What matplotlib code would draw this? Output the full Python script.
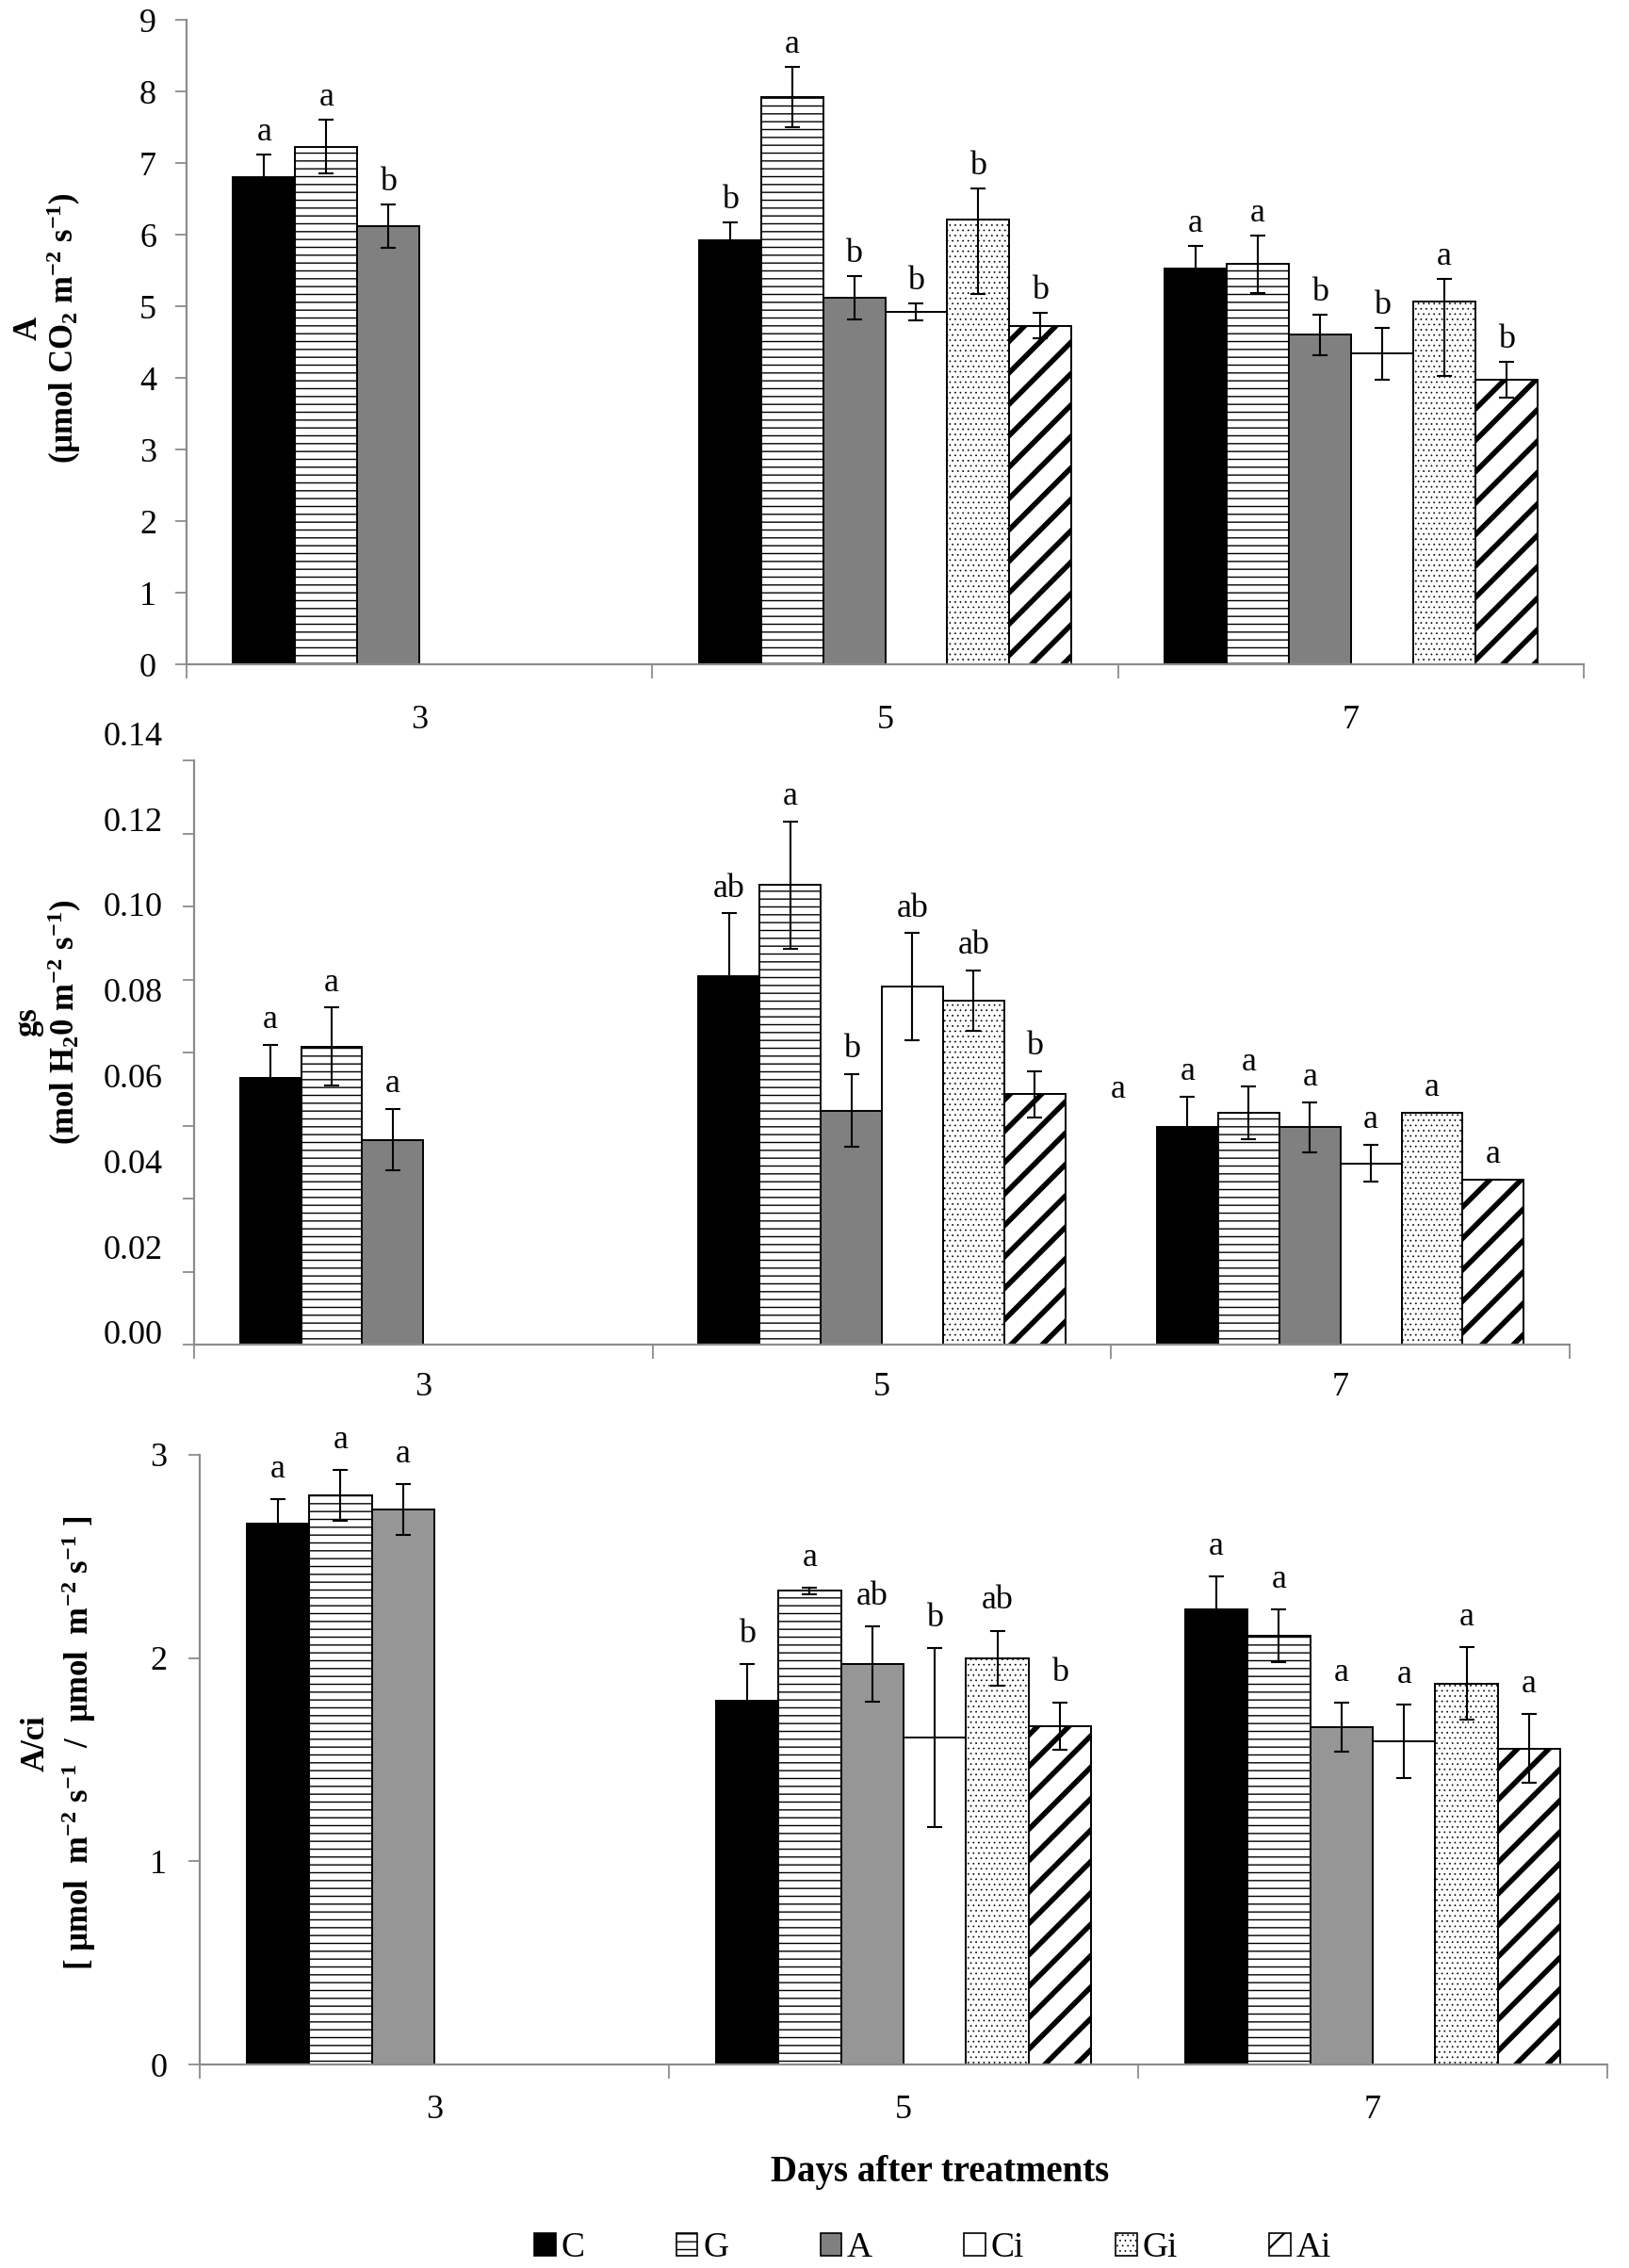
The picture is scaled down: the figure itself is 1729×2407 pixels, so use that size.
import numpy as np
import matplotlib
matplotlib.use("Agg")
import matplotlib.pyplot as plt
from matplotlib.patches import Patch
from matplotlib.transforms import blended_transform_factory

plt.rcParams['font.family'] = ['Liberation Serif', 'DejaVu Serif']
plt.rcParams['mathtext.fontset'] = 'custom'
plt.rcParams['mathtext.rm'] = 'Liberation Serif'
plt.rcParams['mathtext.it'] = 'Liberation Serif:italic'
plt.rcParams['mathtext.bf'] = 'Liberation Serif:bold'
plt.rcParams['mathtext.default'] = 'regular'

nan = np.nan
days = ["3", "5", "7"]
treatments = ["C", "G", "A", "Ci", "Gi", "Ai"]

# rows = treatment (C, G, A, Ci, Gi, Ai), cols = day (3, 5, 7)
A_mean = [[6.80, 5.92, 5.52],
          [7.23, 7.92, 5.59],
          [6.12, 5.12, 4.60],
          [nan, 4.92, 4.34],
          [nan, 6.21, 5.06],
          [nan, 4.73, 3.98]]
A_err_lo = [[0.32, 0.25, 0.32],
            [0.37, 0.42, 0.40],
            [0.30, 0.30, 0.28],
            [nan, 0.12, 0.36],
            [nan, 1.04, 1.03],
            [nan, 0.18, 0.25]]
A_err_hi = [[0.32, 0.25, 0.32],
            [0.37, 0.42, 0.40],
            [0.30, 0.30, 0.28],
            [nan, 0.12, 0.36],
            [nan, 0.43, 0.32],
            [nan, 0.18, 0.25]]
A_letters = [["a", "b", "a"],
             ["a", "a", "a"],
             ["b", "b", "b"],
             ["", "b", "b"],
             ["", "b", "a"],
             ["", "b", "b"]]

gs_mean = [[0.0623, 0.0861, 0.0508],
           [0.0697, 0.1074, 0.0542],
           [0.0479, 0.0547, 0.0508],
           [nan, 0.0837, 0.0424],
           [nan, 0.0804, 0.0542],
           [nan, 0.0585, 0.0385]]
gs_err = [[0.0077, 0.0147, 0.0071],
          [0.0091, 0.0149, 0.0061],
          [0.0072, 0.0085, 0.0058],
          [nan, 0.0125, 0.0043],
          [nan, 0.0071, 0.0],
          [nan, 0.0054, 0.0]]
gs_letters = [["a", "ab", "a"],
              ["a", "a", "a"],
              ["a", "b", "a"],
              ["", "ab", "a"],
              ["", "ab", "a"],
              ["", "b", "a"]]

aci_mean = [[2.66, 1.79, 2.24],
            [2.80, 2.33, 2.11],
            [2.73, 1.97, 1.66],
            [nan, 1.61, 1.59],
            [nan, 2.00, 1.875],
            [nan, 1.665, 1.555]]
aci_err = [[0.12, 0.18, 0.16],
           [0.125, 0.015, 0.13],
           [0.125, 0.185, 0.12],
           [nan, 0.44, 0.18],
           [nan, 0.135, 0.18],
           [nan, 0.115, 0.17]]
aci_letters = [["a", "b", "a"],
               ["a", "a", "a"],
               ["a", "ab", "a"],
               ["", "b", "a"],
               ["", "ab", "a"],
               ["", "b", "a"]]

gs_tick_labels = ["0.00", "0.02", "0.04", "0.06", "0.08", "0.10", "0.12", "0.14"]

W, H = 1729, 2407
fig = plt.figure(figsize=(W / 100, H / 100), dpi=100)

AXIS_GREY = "#8c8c8c"
TICK_FS = 26
styles = [dict(color="black", hatch=None, hlw=1.0),
          dict(color="white", hatch="--", hlw=1.0),
          dict(color="#808080", hatch=None, hlw=1.0),
          dict(color="white", hatch=None, hlw=1.0),
          dict(color="white", hatch="...", hlw=0.5),
          dict(color="white", hatch="/", hlw=4.0)]


def hatch_lw(artist, lw):
    # set the hatch width whichever way this matplotlib reads it
    if hasattr(artist, "set_hatch_linewidth"):
        artist.set_hatch_linewidth(lw)
    elif hasattr(artist, "_hatch_linewidth"):
        artist._hatch_linewidth = lw
    draw = artist.draw

    def wrapped(renderer, *args, **kwargs):
        with plt.rc_context({"hatch.linewidth": lw}):
            return draw(renderer, *args, **kwargs)
    artist.draw = wrapped


def px_axes(left, top, right, bottom):
    return fig.add_axes([left / W, 1 - bottom / H, (right - left) / W, (bottom - top) / H])


def draw_panel(ax, mean, err_lo, err_hi, letters, a_color, letter_pad, xlab_pad):
    n = len(treatments)
    width = 0.8 / n
    x = np.arange(len(days))
    for i in range(n):
        st = styles[i]
        col = a_color if i == 2 else st["color"]
        pos = x + (i - (n - 1) / 2) * width
        vals = np.array(mean[i], dtype=float)
        lo = np.array(err_lo[i], dtype=float)
        hi = np.array(err_hi[i], dtype=float)
        with plt.rc_context({"hatch.linewidth": st["hlw"]}):
            bars = ax.bar(pos, vals, width, color=col, edgecolor="black",
                          linewidth=1.4, hatch=st["hatch"], zorder=2)
        for b in bars:
            hatch_lw(b, st["hlw"])
        ok = ~np.isnan(vals)
        ax.errorbar(pos[ok], vals[ok], yerr=[lo[ok], hi[ok]], fmt="none",
                    ecolor="black", elinewidth=1.5, capsize=6, capthick=1.5, zorder=3)
        for j in range(len(days)):
            if ok[j] and letters[i][j]:
                ax.annotate(letters[i][j], (pos[j], vals[j] + hi[j]),
                            xytext=(0, letter_pad), textcoords="offset points",
                            ha="center", va="bottom", fontsize=26, zorder=4)
    ax.set_xlim(-0.5, len(days) - 0.5)
    ax.set_xticks(np.arange(len(days) + 1) - 0.5)
    ax.set_xticklabels([])
    ax.set_xticks(x, minor=True)
    ax.set_xticklabels(days, minor=True)
    ax.tick_params(axis="x", which="major", length=11, width=1.3, color=AXIS_GREY, direction="out")
    ax.tick_params(axis="x", which="minor", length=0, labelsize=TICK_FS, pad=xlab_pad)
    ax.tick_params(axis="y", length=9, width=1.3, color=AXIS_GREY, direction="out",
                   labelsize=TICK_FS)
    for side in ["top", "right"]:
        ax.spines[side].set_visible(False)
    for side in ["left", "bottom"]:
        ax.spines[side].set_color(AXIS_GREY)
        ax.spines[side].set_linewidth(1.6)


def two_line_ylabel(x1, x2, yc, line1, line2):
    fig.text(x1 / W, 1 - yc / H, line1, rotation=90, ha="center", va="center",
             fontsize=25, fontweight="bold")
    fig.text(x2 / W, 1 - yc / H, line2, rotation=90, ha="center", va="center",
             fontsize=25, fontweight="bold")


# panel 1: net photosynthesis
ax1 = px_axes(198, 21, 1681, 705)
draw_panel(ax1, A_mean, A_err_lo, A_err_hi, A_letters, "#808080", 5, 31)
ax1.set_ylim(0, 9)
ax1.set_yticks(range(0, 10))
ax1.tick_params(axis="y", pad=14)
two_line_ylabel(30, 68, 348, "A", "(µmol CO$_2$ m$^{-2}$ s$^{-1}$)")

# panel 2: stomatal conductance
ax2 = px_axes(206, 807, 1666, 1427)
draw_panel(ax2, gs_mean, gs_err, gs_err, gs_letters, "#808080", 7, 21)
gs_top = 620 / 4540
ax2.set_ylim(0, gs_top)
ax2.set_yticks(np.linspace(0, gs_top, 9))
ax2.set_yticklabels([])
# the tick labels of this panel sit on their own spacing, off the tick marks
lab_tr = blended_transform_factory(ax2.transAxes, ax2.transData)
for lab in gs_tick_labels:
    ax2.text(-33 / 1460, float(lab) + 0.002, lab, transform=lab_tr, ha="right",
             va="center", fontsize=TICK_FS, clip_on=False)
ax2.text(1.515, 0.0595, "a", fontsize=26, ha="center", va="center")
two_line_ylabel(30, 69, 1085, "gs", "(mol H$_2$0 m$^{-2}$ s$^{-1}$)")

# panel 3: A/ci
ax3 = px_axes(212, 1544, 1706, 2191)
draw_panel(ax3, aci_mean, aci_err, aci_err, aci_letters, "#969696", 11, 23)
ax3.set_ylim(0, 3)
ax3.set_yticks([0, 1, 2, 3])
ax3.tick_params(axis="y", pad=16)
two_line_ylabel(38, 84, 1850, "A/ci",
                "[ µmol  m$^{-2}$ s$^{-1}$  /  µmol  m$^{-2}$ s$^{-1}$ ]")

fig.text(998 / W, 1 - 2306 / H, "Days after treatments", ha="center", va="center",
         fontsize=28, fontweight="bold")

handles = []
for i, name in enumerate(treatments):
    with plt.rc_context({"hatch.linewidth": min(styles[i]["hlw"], 1.6)}):
        handles.append(Patch(facecolor=styles[i]["color"], edgecolor="black", linewidth=1.2,
                             hatch=styles[i]["hatch"], label=name))
leg = fig.legend(handles=handles, loc="center", bbox_to_anchor=(990 / W, 1 - 2386 / H),
                 ncol=6, frameon=False, fontsize=27, handlelength=0.6, handleheight=0.6,
                 handletextpad=0.15, columnspacing=2.6)
for i, h in enumerate(leg.legend_handles):
    hatch_lw(h, min(styles[i]["hlw"], 1.6))

fig.savefig("out.png", dpi=100, facecolor="white")
